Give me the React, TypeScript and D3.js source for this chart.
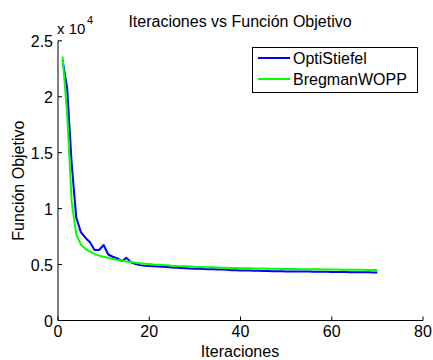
import React from "react";
import * as d3 from "d3";

const iterations: number[] = Array.from({ length: 70 }, (_, i) => i + 1);

const optiStiefel: number[] = [
  23300, 20800, 14000, 9200, 7900, 7400, 7000, 6300, 6300, 6750,
  5900, 5700, 5550, 5300, 5600, 5200, 5050, 4950, 4900, 4870,
  4850, 4830, 4800, 4780, 4730, 4720, 4700, 4680, 4650, 4630,
  4620, 4600, 4590, 4580, 4560, 4550, 4530, 4500, 4490, 4480,
  4470, 4460, 4450, 4440, 4430, 4420, 4410, 4400, 4400, 4390,
  4390, 4380, 4380, 4370, 4370, 4360, 4360, 4350, 4350, 4340,
  4340, 4330, 4330, 4320, 4320, 4320, 4310, 4310, 4300, 4300,
];

const bregmanWOPP: number[] = [
  23600, 18500, 10600, 7700, 6800, 6400, 6150, 5950, 5800, 5700,
  5600, 5500, 5420, 5350, 5280, 5220, 5170, 5120, 5080, 5040,
  5000, 4980, 4950, 4930, 4900, 4880, 4860, 4840, 4820, 4800,
  4790, 4770, 4760, 4750, 4730, 4720, 4710, 4700, 4690, 4680,
  4670, 4660, 4650, 4645, 4640, 4630, 4625, 4620, 4610, 4605,
  4600, 4595, 4590, 4585, 4580, 4575, 4570, 4565, 4560, 4555,
  4550, 4545, 4540, 4535, 4530, 4528, 4525, 4522, 4520, 4520,
];

const seriesNames: string[] = ["OptiStiefel", "BregmanWOPP"];
const seriesColors: string[] = ["#0000ff", "#00ff00"];
const xTicks: number[] = [0, 20, 40, 60, 80];
const yTicks: number[] = [0, 5000, 10000, 15000, 20000, 25000];
const yTickLabels: string[] = ["0", "0.5", "1", "1.5", "2", "2.5"];

const W = 433;
const H = 360;
const FONT = "'Liberation Sans', Arial, Helvetica, sans-serif";

export default function App() {
  const x = d3.scaleLinear().domain([0, 80]).range([58, 423]);
  const y = d3.scaleLinear().domain([0, 25000]).range([320.5, 40.8]);
  const line = d3
    .line<number>()
    .x((_, i) => x(iterations[i]))
    .y((d) => y(d));
  const series = [optiStiefel, bregmanWOPP];

  return (
    <svg
      width={W}
      height={H}
      style={{ position: "absolute", left: 0, top: 0, background: "#fff" }}
      fontFamily={FONT}
    >
      <rect x={0} y={0} width={W} height={H} fill="#fff" />
      {/* title */}
      <text x={240} y={27} fontSize={16} textAnchor="middle" fill="#000">
        Iteraciones vs Función Objetivo
      </text>
      {/* exponent */}
      <text x={57} y={34} fontSize={15} fill="#000">
        x 10
      </text>
      <text x={87} y={24} fontSize={11} fill="#000">
        4
      </text>
      {/* data lines */}
      {series.map((s, k) => (
        <path
          key={seriesNames[k]}
          d={line(s) || ""}
          fill="none"
          stroke={seriesColors[k]}
          strokeWidth={2}
          strokeLinejoin="round"
        />
      ))}
      {/* axes */}
      <line x1={x(0)} x2={x(80)} y1={y(0)} y2={y(0)} stroke="#000" strokeWidth={1} />
      <line x1={x(0)} x2={x(0)} y1={y(0)} y2={y(25000)} stroke="#000" strokeWidth={1} />
      {xTicks.map((t) => (
        <g key={"x" + t}>
          <line x1={x(t)} x2={x(t)} y1={y(0)} y2={y(0) - 4} stroke="#000" />
          <text x={x(t)} y={337} fontSize={16} textAnchor="middle" fill="#000">
            {t}
          </text>
        </g>
      ))}
      {yTicks.map((t, i) => (
        <g key={"y" + t}>
          <line x1={x(0)} x2={x(0) + 4} y1={y(t)} y2={y(t)} stroke="#000" />
          <text
            x={53}
            y={y(t) + 6}
            fontSize={16}
            textAnchor="end"
            fill="#000"
          >
            {yTickLabels[i]}
          </text>
        </g>
      ))}
      {/* axis labels */}
      <text x={240} y={357} fontSize={16} textAnchor="middle" fill="#000">
        Iteraciones
      </text>
      <text
        transform={`translate(24, ${(y(0) + y(25000)) / 2}) rotate(-90)`}
        fontSize={16}
        textAnchor="middle"
        fill="#000"
      >
        Función Objetivo
      </text>
      {/* legend */}
      <rect x={252.5} y={47.5} width={165} height={45} fill="#fff" stroke="#000" strokeWidth={1} />
      {seriesNames.map((n, k) => (
        <g key={"lg" + n}>
          <line x1={258} x2={290} y1={58 + k * 21} y2={58 + k * 21} stroke={seriesColors[k]} strokeWidth={2} />
          <text x={293} y={64 + k * 21} fontSize={16} fill="#000">
            {n}
          </text>
        </g>
      ))}
    </svg>
  );
}
